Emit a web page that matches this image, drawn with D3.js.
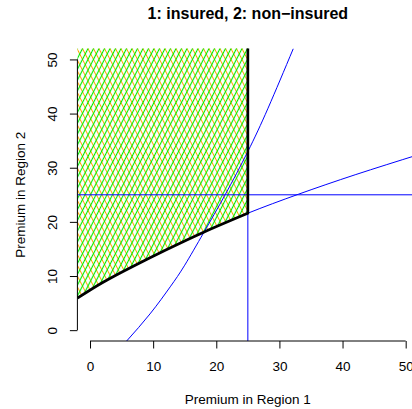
<!DOCTYPE html>
<html>
<head>
<meta charset="utf-8">
<script src="https://cdn.jsdelivr.net/npm/d3@7"></script>
<style>
  body { margin: 0; background: #fff; }
  text { font-family: "Liberation Sans", Arial, sans-serif; fill: #000; }
</style>
</head>
<body>
<script>
//chart values
var titleText = "1: insured, 2: non\u2212insured";
var xLabel = "Premium in Region 1",
    yLabel = "Premium in Region 2";
var xTicks = [0, 10, 20, 30, 40, 50],
    yTicks = [0, 10, 20, 30, 40, 50];

//flatter blue curve (premium 2 as function of premium 1)
var flatX = [-2, 2, 7, 12, 18, 25, 33, 42, 52],
    flatY = [5.9, 8.8, 11.9, 14.8, 18.1, 21.6, 25.1, 28.7, 32.4];

//steeper blue curve (premium 1 as function of premium 2)
var steepY = [-2, 3, 8, 12, 18, 25, 33, 41, 52],
    steepX = [5.8, 9.5, 12.7, 15.0, 18.0, 21.4, 25.0, 28.2, 32.2];

//reference lines
var vLine = 25,
    hLine = 25;

window.onload = drawChart;

function drawChart(){

    var width = 412,
        height = 409;

    var svg = d3.select("body")
        .append("svg")
        .attr("width", width)
        .attr("height", height);

    //plot region, R style 4% padding around 0..50
    var x = d3.scaleLinear()
        .domain([-2, 52])
        .range([77.4, 418.3]);

    var y = d3.scaleLinear()
        .domain([-2, 52])
        .range([341, 48.6]);

    var defs = svg.append("defs");

    defs.append("clipPath")
        .attr("id", "plotClip")
        .append("rect")
        .attr("x", x(-2))
        .attr("y", y(52))
        .attr("width", x(52) - x(-2))
        .attr("height", y(-2) - y(52));

    //hatching like R polygon(density, angle)
    function hatch(id, angle, color, w){
        var p = defs.append("pattern")
            .attr("id", id)
            .attr("patternUnits", "userSpaceOnUse")
            .attr("width", 4.9)
            .attr("height", 10)
            .attr("patternTransform", "rotate(" + angle + ")");
        p.append("line")
            .attr("x1", 2.45).attr("x2", 2.45)
            .attr("y1", -1).attr("y2", 11)
            .attr("stroke", color)
            .attr("stroke-width", w);
    }
    hatch("hatchOrange", -27, "#ffa500", 1);
    hatch("hatchGreen", 27, "#00ee00", 1.15);

    var plot = svg.append("g")
        .attr("clip-path", "url(#plotClip)");

    //insured region: above the flat curve, left of premium 1 = 25
    var regionPts = [];
    flatX.forEach(function(d, i){
        if (d <= vLine) regionPts.push([d, flatY[i]]);
    });

    var smooth = d3.line()
        .x(function(d){ return x(d[0]); })
        .y(function(d){ return y(d[1]); })
        .curve(d3.curveNatural);

    var poly = d3.line()
        .x(function(d){ return x(d[0]); })
        .y(function(d){ return y(d[1]); });

    //polygon: smooth lower edge then straight sides
    var lowerPath = smooth(regionPts);
    var restPath = poly([[vLine, 60], [-5, 60], [-5, flatY[0]], regionPts[0]]).replace(/^M/, "L");
    ["hatchOrange", "hatchGreen"].forEach(function(id){
        plot.append("path")
            .attr("d", lowerPath + restPath + "Z")
            .attr("fill", "url(#" + id + ")")
            .attr("stroke", "none");
    });

    //blue reference lines
    plot.append("line")
        .attr("x1", x(-2)).attr("x2", x(52))
        .attr("y1", y(hLine)).attr("y2", y(hLine))
        .attr("stroke", "#0000ff").attr("stroke-width", 1);
    plot.append("line")
        .attr("x1", x(vLine)).attr("x2", x(vLine))
        .attr("y1", y(-2)).attr("y2", y(52))
        .attr("stroke", "#0000ff").attr("stroke-width", 1);

    //blue curves
    plot.append("path")
        .datum(flatX.map(function(d, i){ return [d, flatY[i]]; }))
        .attr("d", smooth)
        .attr("fill", "none")
        .attr("stroke", "#0000ff")
        .attr("stroke-width", 1);

    plot.append("path")
        .datum(steepY.map(function(d, i){ return [steepX[i], d]; }))
        .attr("d", smooth)
        .attr("fill", "none")
        .attr("stroke", "#0000ff")
        .attr("stroke-width", 1);

    //black boundary of the insured region
    plot.append("path")
        .attr("d", lowerPath + "V" + y(60))
        .attr("fill", "none")
        .attr("stroke", "#000")
        .attr("stroke-width", 2.7);

    //axes, R style: line only between first and last tick
    var xAxis = svg.append("g")
        .attr("transform", "translate(0," + y(-2) + ")")
        .call(d3.axisBottom(x).tickValues(xTicks).tickSizeInner(7.5).tickSizeOuter(0));
    xAxis.select(".domain")
        .attr("d", "M" + x(xTicks[0]) + ",0H" + x(xTicks[xTicks.length - 1]));
    xAxis.selectAll("text")
        .attr("y", 20.5)
        .style("font-size", "13.5px")
        .style("font-family", "Liberation Sans, Arial, sans-serif");

    var yAxis = svg.append("g")
        .attr("transform", "translate(" + x(-2) + ",0)")
        .call(d3.axisLeft(y).tickValues(yTicks).tickSizeInner(7.5).tickSizeOuter(0));
    yAxis.select(".domain")
        .attr("d", "M0," + y(yTicks[0]) + "V" + y(yTicks[yTicks.length - 1]));
    yAxis.selectAll("text")
        .attr("transform", "rotate(-90)")
        .attr("x", 0)
        .attr("y", -20)
        .attr("dy", 0)
        .attr("text-anchor", "middle")
        .style("font-size", "13.5px")
        .style("font-family", "Liberation Sans, Arial, sans-serif");

    svg.selectAll(".domain, .tick line")
        .attr("stroke", "#000");

    //titles
    svg.append("text")
        .attr("x", (x(-2) + x(52)) / 2)
        .attr("y", 18.5)
        .attr("text-anchor", "middle")
        .style("font-size", "16px")
        .style("font-weight", "bold")
        .text(titleText);

    svg.append("text")
        .attr("x", (x(-2) + x(52)) / 2)
        .attr("y", 404)
        .attr("text-anchor", "middle")
        .style("font-size", "13.5px")
        .text(xLabel);

    svg.append("text")
        .attr("transform", "translate(25," + (y(-2) + y(52)) / 2 + ") rotate(-90)")
        .attr("text-anchor", "middle")
        .style("font-size", "13.5px")
        .text(yLabel);
};
</script>
</body>
</html>
